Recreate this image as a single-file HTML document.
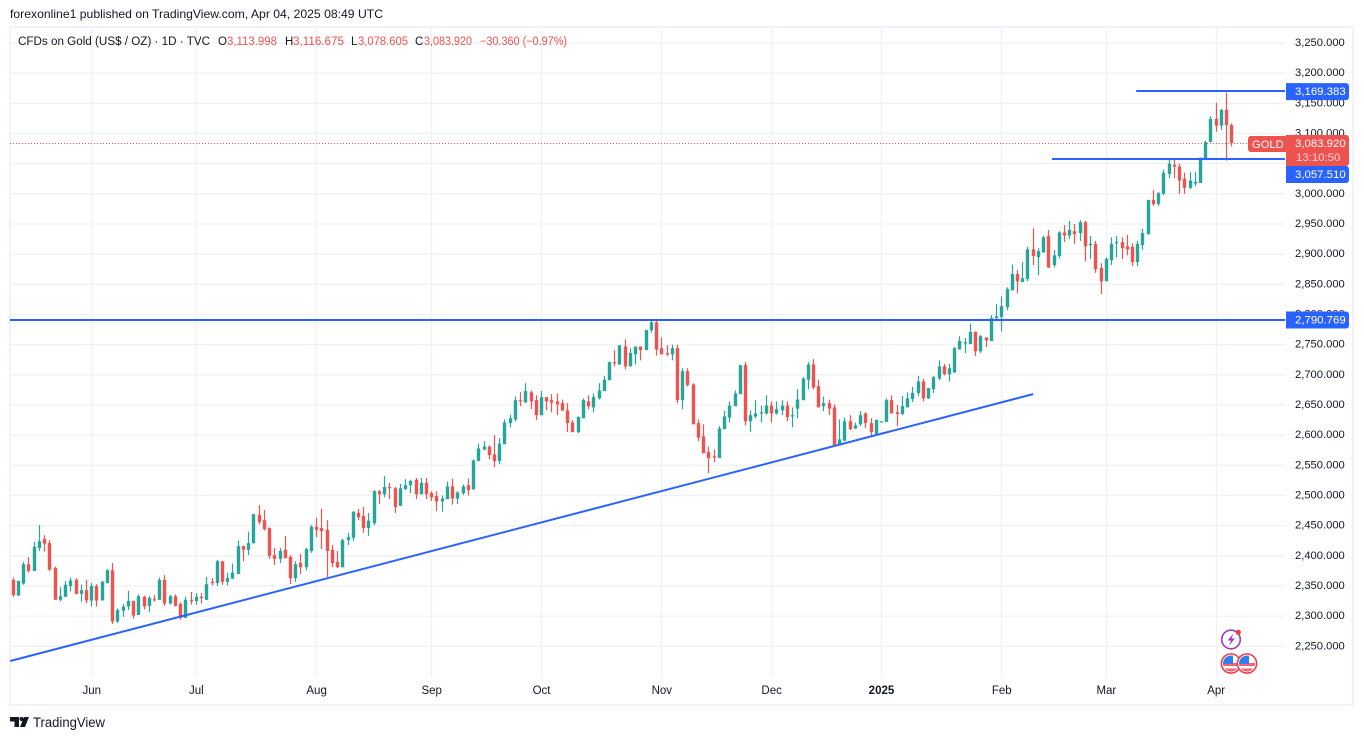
<!DOCTYPE html>
<html lang="en">
<head>
<meta charset="utf-8">
<title>CFDs on Gold chart</title>
<style>
html,body{margin:0;padding:0;background:#fff;width:1364px;height:740px;overflow:hidden}
svg{display:block}
text{font-family:"Liberation Sans",sans-serif;fill:#131722}
</style>
</head>
<body>
<svg id="chart" xmlns="http://www.w3.org/2000/svg" width="1364" height="740" viewBox="0 0 1364 740">
  <rect x="10" y="27" width="1343" height="678" fill="#fff" stroke="#f0f3fa" stroke-width="2"/>
  <g id="grid"></g>
  <g id="candles"></g>
  <g id="drawings"></g>
  <rect x="1285" y="28" width="67" height="676" fill="#fff"/>
  <g id="yaxis"></g>
  <g id="xaxis"></g>
  <g id="tags"></g>

  <text x="10" y="18" font-size="12" textLength="373" lengthAdjust="spacingAndGlyphs">forexonline1 published on TradingView.com, Apr 04, 2025 08:49 UTC</text>

  <g font-size="11.5">
    <text x="18" y="45" textLength="192" lengthAdjust="spacingAndGlyphs">CFDs on Gold (US$ / OZ) · 1D · TVC</text>
    <text x="218" y="45">O</text>
    <text x="227" y="45" style="fill:#ef5350" textLength="50" lengthAdjust="spacingAndGlyphs">3,113.998</text>
    <text x="285" y="45">H</text>
    <text x="293" y="45" style="fill:#ef5350" textLength="51" lengthAdjust="spacingAndGlyphs">3,116.675</text>
    <text x="351" y="45">L</text>
    <text x="358" y="45" style="fill:#ef5350" textLength="50" lengthAdjust="spacingAndGlyphs">3,078.605</text>
    <text x="415" y="45">C</text>
    <text x="424" y="45" style="fill:#ef5350" textLength="48" lengthAdjust="spacingAndGlyphs">3,083.920</text>
    <text x="480" y="45" style="fill:#ef5350" textLength="87" lengthAdjust="spacingAndGlyphs">−30.360 (−0.97%)</text>
  </g>

  <g>
    <circle cx="1231" cy="639.5" r="9.3" fill="#fff" stroke="#9c3cb8" stroke-width="1.6"/>
    <path d="M1233.5 633.5 L1227.5 640.5 L1231 640.5 L1229 645.5 L1235 638.5 L1231.5 638.5 Z" fill="#9c3cb8"/>
    <circle cx="1238.3" cy="632.3" r="2.6" fill="#f23645"/>
  </g>
  <defs>
    <clipPath id="flagA"><circle cx="1231" cy="663.5" r="8"/></clipPath>
    <clipPath id="flagB"><circle cx="1247" cy="663.5" r="8"/></clipPath>
  </defs>
  <g>
    <circle cx="1231" cy="663.5" r="9.6" fill="#fff" stroke="#f23645" stroke-width="1.5"/>
    <g clip-path="url(#flagA)">
      <rect x="1223" y="655" width="16" height="17" fill="#fff"/>
      <rect x="1223" y="663" width="16" height="3" fill="#f4636d"/>
      <rect x="1223" y="668.5" width="16" height="3.5" fill="#f4636d"/>
      <rect x="1223" y="655" width="10" height="9" fill="#2f80ed"/>
    </g>
  </g>
  <g>
    <circle cx="1247" cy="663.5" r="9.6" fill="#fff" stroke="#f23645" stroke-width="1.5"/>
    <g clip-path="url(#flagB)">
      <rect x="1239" y="655" width="16" height="17" fill="#fff"/>
      <rect x="1239" y="663" width="16" height="3" fill="#f4636d"/>
      <rect x="1239" y="668.5" width="16" height="3.5" fill="#f4636d"/>
      <rect x="1239" y="655" width="10" height="9" fill="#2f80ed"/>
    </g>
  </g>

  <g>
    <path d="M10 717 H19 V727 H14.5 V721.5 H10 Z" fill="#131722"/>
    <circle cx="21.5" cy="719" r="2" fill="#131722"/>
    <path d="M24 717 H29 L25 727 H20 Z" fill="#131722"/>
    <text x="33" y="727" font-size="13.5" textLength="72" lengthAdjust="spacingAndGlyphs">TradingView</text>
  </g>
</svg>
<script>
var opens=[2360,2334,2354,2386,2375,2413,2428,2421,2380,2327,2332,2350,2360,2337,2343,2326,2350,2326,2355,2376,
2291,2309,2316,2325,2302,2332,2317,2328,2327,2360,2321,2333,2320,2297,2327,2325,2332,2327,2357,2355,
2391,2357,2362,2370,2416,2410,2421,2468,2459,2446,2401,2395,2410,2398,2363,2388,2381,2408,2448,2446,
2443,2410,2390,2381,2426,2430,2471,2466,2446,2454,2507,2502,2514,2512,2483,2511,2517,2526,2502,2521,
2504,2499,2490,2494,2515,2495,2504,2517,2510,2557,2576,2581,2568,2557,2585,2620,2626,2658,2654,2671,
2658,2633,2663,2658,2656,2653,2641,2621,2605,2628,2656,2646,2661,2673,2691,2721,2717,2747,2714,2734,
2747,2741,2774,2787,2744,2736,2734,2744,2658,2706,2684,2620,2598,2572,2565,2562,2610,2629,2648,2668,
2716,2623,2631,2636,2636,2649,2636,2641,2649,2631,2644,2658,2692,2717,2681,2648,2653,2646,2583,2591,
2623,2611,2618,2636,2620,2602,2621,2622,2658,2638,2635,2646,2660,2670,2689,2661,2676,2694,2714,2701,
2704,2742,2752,2751,2771,2739,2762,2756,2794,2796,2812,2840,2867,2854,2859,2908,2895,2903,2930,2882,
2897,2936,2931,2938,2935,2953,2915,2917,2877,2855,2890,2918,2920,2913,2912,2887,2915,2933,2990,2983,
3000,3033,3048,3045,3025,3010,3017,3018,3056,3086,3124,3113,3139,3113.998];
var highs=[2364,2359,2390,2398,2423,2451,2434,2426,2382,2348,2358,2364,2363,2352,2360,2355,2353,2358,2378,2388,
2313,2320,2342,2326,2336,2334,2333,2335,2364,2368,2335,2336,2323,2332,2340,2338,2338,2365,2363,2393,
2391,2372,2387,2425,2417,2440,2469,2484,2476,2447,2413,2413,2433,2401,2391,2403,2413,2451,2463,2478,
2459,2418,2408,2428,2438,2474,2478,2481,2471,2509,2509,2532,2521,2514,2519,2527,2526,2529,2529,2529,
2507,2507,2500,2523,2528,2507,2518,2528,2560,2586,2590,2583,2600,2595,2626,2634,2664,2671,2686,2674,
2666,2673,2663,2668,2669,2659,2653,2625,2631,2661,2666,2669,2686,2698,2722,2741,2749,2759,2744,2747,
2747,2775,2790,2790,2762,2749,2750,2750,2711,2711,2686,2626,2618,2581,2576,2615,2640,2656,2674,2716,
2721,2641,2658,2649,2666,2656,2656,2658,2656,2646,2676,2696,2721,2726,2692,2664,2659,2651,2626,2629,
2633,2621,2640,2638,2628,2626,2623,2661,2666,2650,2665,2671,2680,2698,2693,2678,2698,2724,2718,2718,
2746,2764,2761,2785,2772,2766,2762,2799,2817,2830,2845,2883,2874,2887,2912,2943,2910,2930,2940,2907,
2938,2948,2955,2950,2956,2955,2930,2922,2885,2895,2928,2930,2928,2932,2918,2922,2942,2990,3006,3003,
3040,3056,3056,3050,3035,3036,3036,3060,3088,3129,3151,3141,3168,3116.675];
var lows=[2332,2334,2352,2372,2375,2408,2407,2375,2327,2325,2332,2341,2336,2324,2321,2316,2316,2326,2354,2287,
2289,2299,2310,2296,2302,2311,2307,2324,2327,2317,2319,2316,2294,2297,2319,2319,2321,2327,2351,2350,
2352,2351,2362,2370,2391,2401,2420,2452,2442,2395,2385,2388,2396,2353,2357,2370,2376,2405,2431,2411,
2365,2381,2380,2381,2418,2425,2459,2438,2433,2451,2486,2497,2494,2471,2483,2509,2504,2494,2502,2494,
2491,2474,2473,2494,2485,2486,2501,2500,2510,2557,2575,2560,2547,2552,2585,2613,2623,2648,2654,2643,
2625,2633,2641,2638,2633,2640,2605,2605,2603,2628,2643,2638,2659,2673,2691,2714,2717,2709,2714,2717,
2724,2741,2770,2732,2734,2731,2724,2653,2643,2681,2618,2590,2570,2537,2555,2562,2610,2621,2648,2668,
2616,2605,2628,2621,2634,2621,2634,2633,2623,2613,2628,2658,2676,2676,2646,2640,2633,2583,2583,2590,
2608,2610,2615,2612,2597,2602,2621,2622,2636,2615,2633,2646,2655,2665,2656,2660,2670,2691,2699,2689,
2703,2742,2736,2751,2731,2736,2746,2756,2791,2772,2807,2840,2835,2854,2855,2882,2865,2902,2877,2878,
2893,2920,2925,2917,2922,2888,2892,2869,2834,2855,2882,2895,2892,2898,2880,2880,2907,2933,2980,2980,
2998,3026,3026,3000,3000,3008,3013,3018,3056,3086,3103,3106,3055,3078.605];
var closes=[2335,2358,2386,2375,2415,2424,2420,2377,2327,2333,2352,2359,2337,2343,2326,2350,2326,2357,2376,2291,
2310,2316,2325,2301,2333,2316,2330,2327,2360,2321,2333,2317,2297,2327,2325,2332,2330,2353,2355,2391,
2357,2363,2372,2416,2410,2421,2469,2456,2444,2400,2395,2408,2396,2363,2386,2381,2411,2448,2443,2441,
2408,2388,2381,2426,2431,2473,2464,2446,2458,2507,2502,2514,2512,2481,2512,2517,2524,2502,2521,2502,
2497,2490,2495,2515,2495,2505,2515,2509,2558,2578,2581,2567,2557,2586,2621,2628,2658,2656,2673,2656,
2633,2663,2656,2654,2651,2641,2620,2605,2630,2658,2648,2663,2674,2692,2721,2719,2749,2714,2736,2747,
2741,2774,2787,2742,2734,2734,2744,2658,2706,2683,2618,2596,2570,2562,2563,2611,2631,2649,2669,2716,
2623,2633,2636,2638,2649,2636,2643,2649,2630,2633,2659,2694,2717,2679,2646,2653,2644,2583,2593,2623,
2610,2616,2633,2620,2605,2625,2623,2658,2636,2635,2648,2661,2670,2689,2661,2678,2696,2714,2701,2711,
2744,2756,2754,2771,2739,2764,2757,2794,2797,2814,2842,2867,2855,2860,2908,2897,2905,2928,2878,2898,
2936,2931,2940,2933,2953,2913,2917,2875,2855,2892,2917,2920,2910,2908,2887,2917,2935,2990,2983,3001,
3035,3050,3045,3022,3010,3022,3020,3060,3086,3124,3113,3139,3114,3083.92];

var priceTicks=[2250,2300,2350,2400,2450,2500,2550,2600,2650,2700,2750,2800,2850,2900,2950,3000,3050,3100,3150,3200,3250];
var timeLabels=["Jun","Jul","Aug","Sep","Oct","Nov","Dec","2025","Feb","Mar","Apr"];
var timeBars=[15,35,58,80,101,124,145,166,189,209,230];
var levelPrices=[2790.769,3057.51,3169.383];
var levelStartBars=[-1,198.6,214.7];
var trendBars=[-0.6,195];
var trendPrices=[2225.6,2668];

var NS="http://www.w3.org/2000/svg";
var PANE_LEFT=10,PANE_RIGHT=1285,PANE_TOP=28,PANE_BOTTOM=680;
var UP="#26a69a",DOWN="#ef5350",BLUE="#2962ff";
function x(i){return 13.3+i*5.23;}
function y(v){return 646.3-(v-2250)*0.6033;}
function fmt(v){var s=v.toFixed(3).split(".");return s[0].replace(/\B(?=(\d{3})+$)/g,",")+"."+s[1];}
function el(parent,tag,attrs){
  var n=document.createElementNS(NS,tag);
  for(var k in attrs){n.setAttribute(k,attrs[k]);}
  parent.appendChild(n);
  return n;
}
var grid=document.getElementById("grid");
var candles=document.getElementById("candles");
var drawings=document.getElementById("drawings");
var yaxis=document.getElementById("yaxis");
var xaxis=document.getElementById("xaxis");
var tags=document.getElementById("tags");

priceTicks.forEach(function(p){
  var l=el(grid,"line",{x1:PANE_LEFT,x2:PANE_RIGHT,y1:y(p),y2:y(p),stroke:"#f0f1f3","stroke-width":1.3});
  
  
  var t=el(yaxis,"text",{x:1295,y:y(p)+3,"font-size":11.2});
  
  
  t.textContent=fmt(p);
});
timeBars.forEach(function(b,i){
  var l=el(grid,"line",{x1:Math.floor(x(b))+0.5,x2:Math.floor(x(b))+0.5,y1:PANE_TOP,y2:PANE_BOTTOM-3,stroke:"#f0f1f3","stroke-width":1.3});
  
  
  var t=el(xaxis,"text",{x:x(b),y:694,"font-size":11.5,"text-anchor":"middle","font-weight":timeLabels[i]==="2025"?"bold":"normal"});
  
  
  t.textContent=timeLabels[i];
});

var lastPrice=closes[closes.length-1];
var lastY=Math.floor(y(lastPrice))+0.5;
var dot=el(drawings,"line",{x1:PANE_LEFT,x2:PANE_RIGHT,y1:lastY,y2:lastY,stroke:"#ef5350","stroke-width":1,"stroke-dasharray":"1 2"});



opens.forEach(function(o,i){
  var c=closes[i],up=c>=o,col=up?UP:DOWN,cx=Math.floor(x(i))+0.5;
  var g=el(candles,"g",{});
  
  
  var w=el(g,"line",{x1:cx,x2:cx,y1:y(highs[i]),y2:y(lows[i]),stroke:col,"stroke-width":1.2});
  
  
  var top=y(Math.max(o,c)),h=Math.max(1,Math.abs(y(o)-y(c)));
  var b=el(g,"rect",{x:cx-1.7,y:top,width:3.4,height:h,fill:col});
  
  
});

var trend=el(drawings,"line",{x1:Math.max(PANE_LEFT,x(trendBars[0])),x2:x(trendBars[1]),y1:y(trendPrices[0]),y2:y(trendPrices[1]),stroke:BLUE,"stroke-width":2});


levelPrices.forEach(function(p,i){
  var ly=Math.floor(y(p));
  var l=el(drawings,"line",{x1:Math.max(PANE_LEFT,x(levelStartBars[i])),x2:PANE_RIGHT,y1:ly,y2:ly,stroke:BLUE,"stroke-width":2});
  
  
});

function tag(cyTop,h,fill,parent){
  return el(parent,"path",{d:"M1286 "+cyTop+" H1346 a3 3 0 0 1 3 3 V"+(cyTop+h-3)+" a3 3 0 0 1 -3 3 H1286 Z",fill:fill});
}
levelPrices.forEach(function(p){
  var cy=y(p);
  if(Math.abs(cy-158.5)<3){cy=174.5;}
  var g=el(tags,"g",{});
  
  
  tag(cy-8.5,17,BLUE,g);
  var t=el(g,"text",{x:1295,y:cy+3.5,"font-size":11.4,style:"fill:#fff"});
  t.textContent=fmt(p);
});
var lastGroup=el(tags,"g",{});


tag(135,31,"#ef5350",lastGroup);
var lastText=el(lastGroup,"text",{x:1295,y:147,"font-size":11.4,style:"fill:#fff"});
lastText.textContent=fmt(lastPrice);
var cd=el(lastGroup,"text",{x:1296,y:161,"font-size":11.4,style:"fill:#ffd9d8"});
cd.textContent="13:10:50";
var sym=el(tags,"g",{});


el(sym,"path",{d:"M1251 136 H1286 V152 H1251 a3 3 0 0 1 -3 -3 V139 a3 3 0 0 1 3 -3 Z",fill:"#ef5350"});
var st=el(sym,"text",{x:1252,y:148,"font-size":11.2,style:"fill:#fff"});
st.textContent="GOLD";
</script>
</body>
</html>
